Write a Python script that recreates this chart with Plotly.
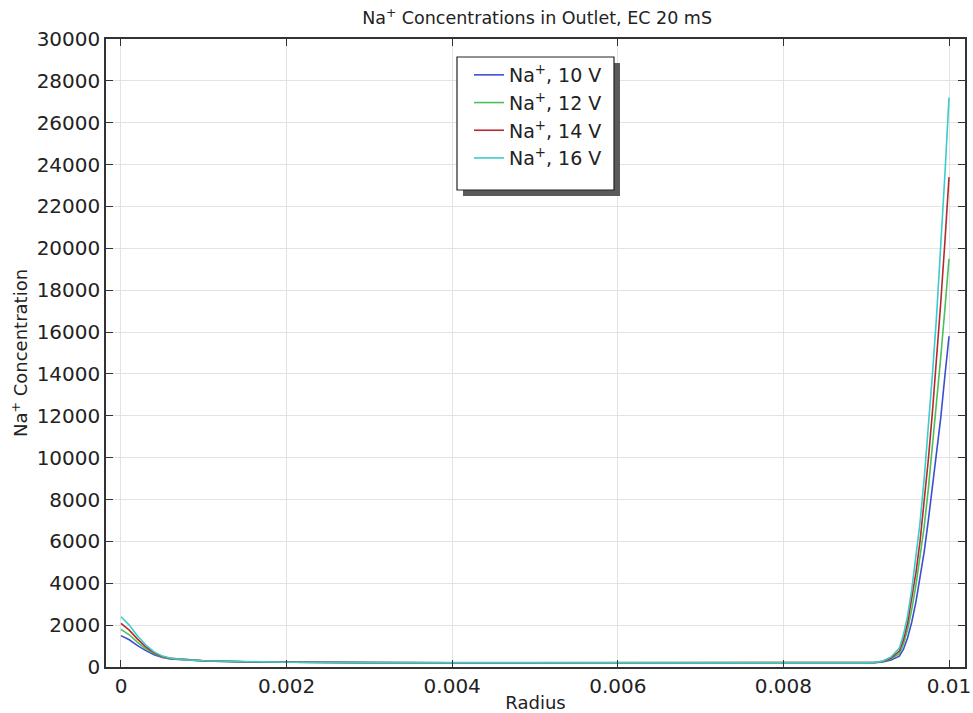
import plotly.graph_objects as go

# Radius positions (shared by all four series)
RADIUS = [0, 0.0001, 0.0002, 0.0003, 0.0004, 0.0005, 0.0006, 0.0008, 0.001,
          0.0015, 0.002, 0.003, 0.004, 0.005, 0.006, 0.007, 0.008, 0.0085,
          0.009, 0.0091, 0.0092, 0.0093, 0.0094, 0.00945, 0.0095, 0.00955,
          0.0096, 0.00965, 0.0097, 0.00975, 0.0098, 0.00985, 0.0099,
          0.00995, 0.01]

NA_10V = [1500, 1300, 1020, 780, 590, 460, 385, 325, 290, 245, 222, 210, 205,
          200, 200, 200, 200, 200, 200, 205, 240, 340, 520, 850, 1400, 2150,
          3100, 4200, 5500, 7000, 8550, 10250, 11900, 13900, 15800]
NA_12V = [1800, 1540, 1180, 870, 640, 480, 400, 330, 292, 246, 223, 210, 205,
          200, 200, 200, 200, 200, 200, 210, 260, 390, 640, 1100, 1800, 2750,
          3900, 5200, 6700, 8500, 10500, 12600, 14800, 17100, 19500]
NA_14V = [2080, 1760, 1330, 960, 680, 500, 410, 335, 295, 248, 224, 210, 205,
          200, 200, 200, 200, 200, 200, 215, 275, 430, 760, 1300, 2100, 3200,
          4500, 6000, 7800, 9900, 12200, 14700, 17400, 20300, 23400]
NA_16V = [2400, 2000, 1480, 1050, 720, 520, 420, 340, 300, 250, 225, 210, 205,
          200, 200, 200, 200, 200, 200, 220, 290, 480, 900, 1550, 2450, 3700,
          5200, 6900, 9000, 11400, 14000, 16800, 20000, 23500, 27200]

SERIES = [
    ("Na<sup>+</sup>, 10 V", NA_10V, "#3b4fd0"),
    ("Na<sup>+</sup>, 12 V", NA_12V, "#4cbf5a"),
    ("Na<sup>+</sup>, 14 V", NA_14V, "#b62a2e"),
    ("Na<sup>+</sup>, 16 V", NA_16V, "#3ccccc"),
]

X_TICKS = [0, 0.002, 0.004, 0.006, 0.008, 0.01]
X_LABELS = ["0", "0.002", "0.004", "0.006", "0.008", "0.01"]
Y_TICKS = list(range(0, 30001, 2000))
Y_LABELS = [str(v) for v in Y_TICKS]

FONT = "DejaVu Sans, Verdana, sans-serif"
TEXT = "#222222"

# plot area in pixels: left 106, right 965, top 39, bottom 667
def px_x(p):
    return (p - 106) / 859


def px_y(p):
    return (667 - p) / 628


fig = go.Figure()

for name, values, color in SERIES:
    fig.add_trace(
        go.Scatter(
            x=RADIUS,
            y=values,
            mode="lines",
            name=name,
            line=dict(color=color, width=1.6),
        )
    )

axis_common = dict(
    showline=True,
    linecolor="#333333",
    linewidth=1.5,
    mirror="allticks",
    ticks="inside",
    ticklen=7,
    tickwidth=1.2,
    tickcolor="#333333",
    showgrid=True,
    gridcolor="#e3e3e3",
    gridwidth=1,
    zeroline=False,
    automargin=False,
    tickfont=dict(family=FONT, size=20, color=TEXT),
)

# legend frame drawn by hand: drop shadow, then white box with border
fig.add_shape(
    type="rect", xref="paper", yref="paper",
    x0=px_x(463), x1=px_x(620), y0=px_y(196), y1=px_y(63),
    fillcolor="#5a5a5a", line=dict(width=0), layer="above",
)
fig.add_shape(
    type="rect", xref="paper", yref="paper",
    x0=px_x(457), x1=px_x(614), y0=px_y(190), y1=px_y(57),
    fillcolor="white", line=dict(color="#222222", width=1.2), layer="above",
)

fig.update_layout(
    width=973,
    height=713,
    margin=dict(l=106, r=8, t=39, b=46),
    paper_bgcolor="white",
    plot_bgcolor="white",
    font=dict(family=FONT, color=TEXT),
    title=dict(
        text="Na<sup>+</sup> Concentrations in Outlet, EC 20 mS",
        x=0.552, xanchor="center",
        y=0.975, yanchor="middle",
        font=dict(family=FONT, size=17.5, color=TEXT),
    ),
    xaxis=dict(
        axis_common,
        range=[-0.000181, 0.010193],
        tickvals=X_TICKS,
        ticktext=X_LABELS,
        title=dict(text="Radius", font=dict(family=FONT, size=18, color=TEXT)),
    ),
    yaxis=dict(
        axis_common,
        range=[0, 30000],
        tickvals=Y_TICKS,
        ticktext=Y_LABELS,
        title=dict(text="Na<sup>+</sup> Concentration",
                   font=dict(family=FONT, size=18, color=TEXT), standoff=4),
    ),
    legend=dict(
        x=px_x(469), xanchor="left",
        y=px_y(56), yanchor="top",
        bgcolor="rgba(0,0,0,0)",
        borderwidth=0,
        font=dict(family=FONT, size=19, color=TEXT),
    ),
    showlegend=True,
)

# the page body has a default 8px margin; drop it so the figure sits at 0,0
fig.write_html(
    "out.html",
    config={"displayModeBar": False},
    post_script="document.body.style.margin='0';",
)
